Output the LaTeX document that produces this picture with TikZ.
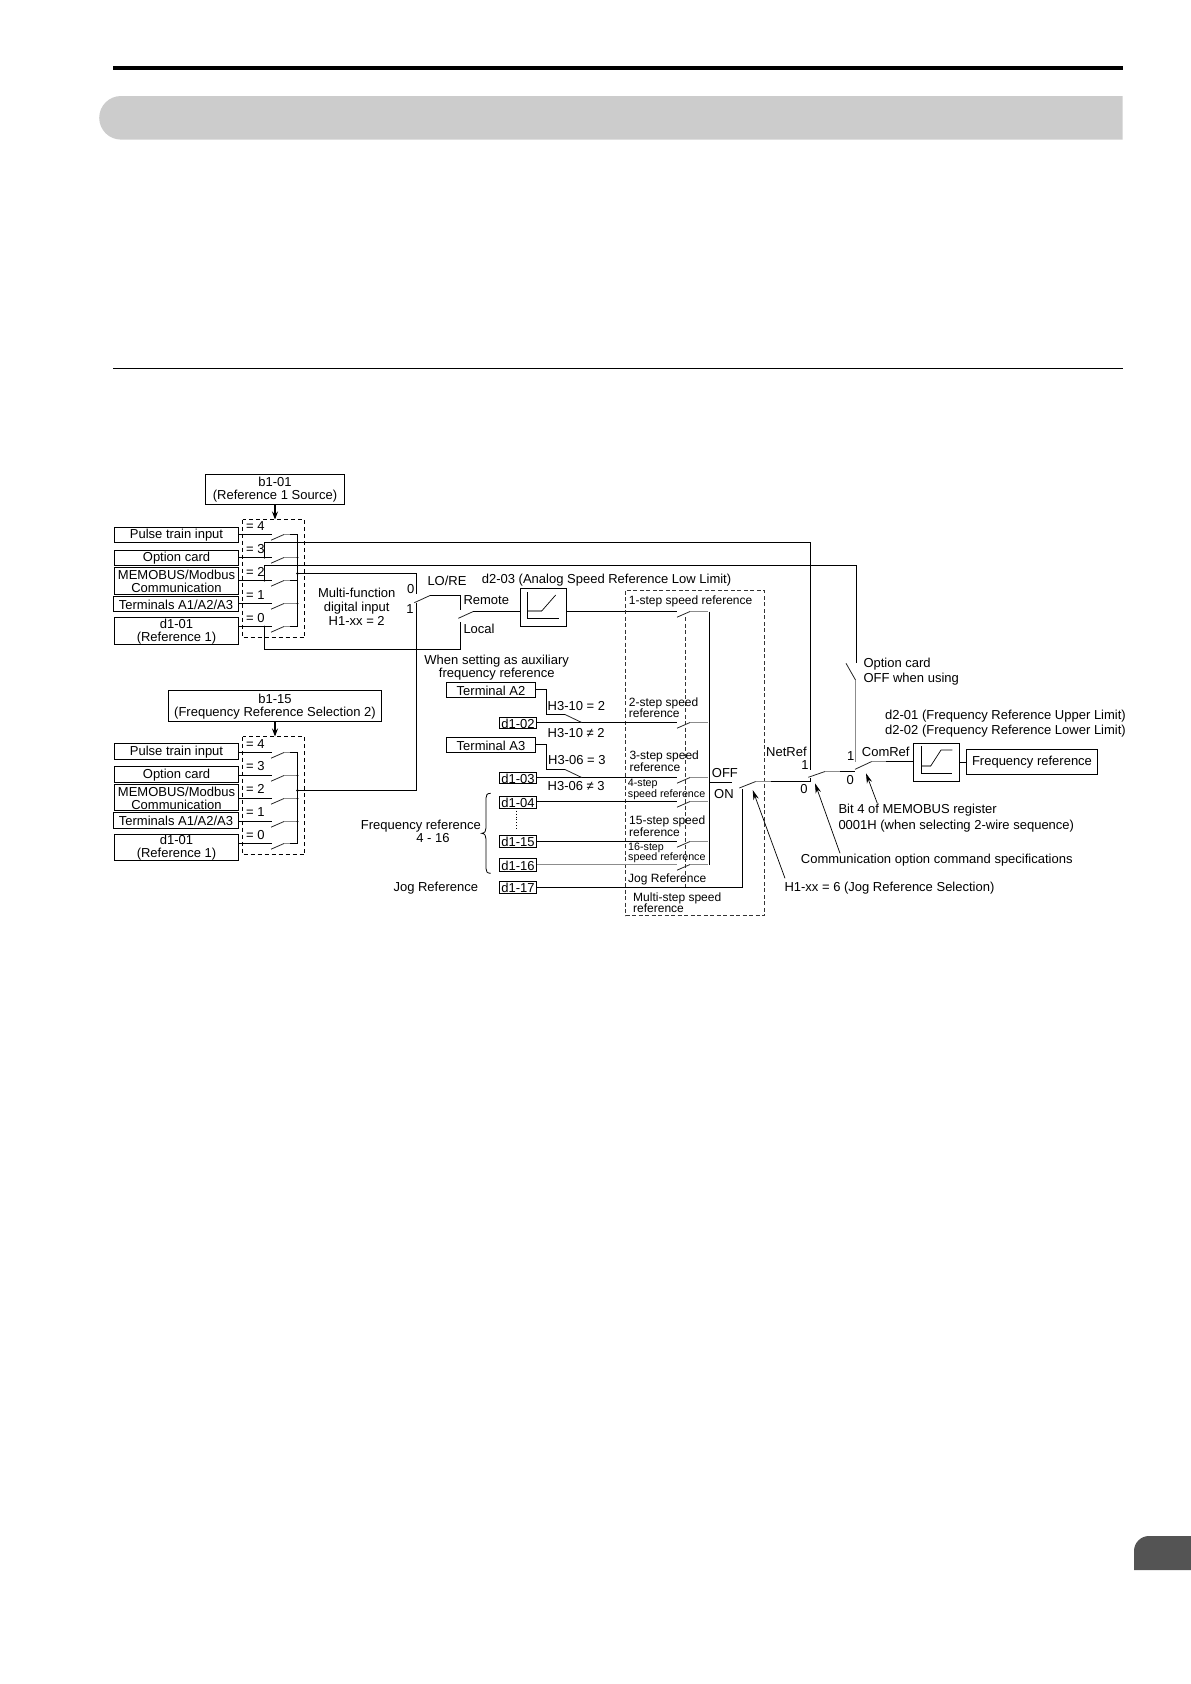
\documentclass[tikz,border=0pt]{standalone}
\usepackage{fontspec}
\setmainfont{Liberation Sans}
\usetikzlibrary{arrows.meta}
\tikzset{
  wire/.style={line width=1.1pt,black,line join=miter},
  blade/.style={line width=0.8pt,black!85},
  knee/.style={line width=1.1pt,black!45},
  dbox/.style={draw=black,line width=1.1pt,dash pattern=on 4pt off 3pt},
  ddbox/.style={draw=black!80,line width=0.8pt,dash pattern=on 4pt off 2.5pt},
  pointer/.style={line width=0.7pt,black,-{Stealth[length=10pt,width=5.5pt]}},
  feed/.style={line width=1.1pt,black,-{Stealth[length=8pt,width=6pt]}},
  boxn/.style={draw=black,line width=1.1pt,inner sep=0pt},
  txt/.style={inner sep=0pt,yshift=-0.4pt,font=\fontsize{13}{13}\selectfont,align=center},
  ltxt/.style={inner sep=0pt,yshift=-0.4pt,anchor=west,font=\fontsize{13}{13}\selectfont},
  rtxt/.style={inner sep=0pt,yshift=-0.4pt,anchor=east,font=\fontsize{13}{13}\selectfont},
  stxt/.style={inner sep=0pt,yshift=-0.4pt,anchor=west,font=\fontsize{12}{12}\selectfont},
  sstxt/.style={inner sep=0pt,yshift=-0.4pt,anchor=west,font=\fontsize{10.7}{10.7}\selectfont},
}
% \bx{name}{x1}{y1}{x2}{y2}{text}
\newcommand{\bx}[6]{\node[boxn,minimum width={(#4-#2)*1pt},minimum height={(#5-#3)*1pt}] (#1) at ({(#2+#4)/2},{(#3+#5)/2}) {};
\node[txt] (#1t) at (#1.center) {#6};}
% \swblade{x}{y}{kneeEnd}
\newcommand{\swblade}[3]{\draw[blade] (#1,#2+5.7) -- (#1+13,#2);\draw[knee] (#1+13,#2) -- (#3,#2);}
\begin{document}
\begin{tikzpicture}[x=1pt,y=-1pt]
\useasboundingbox (0,0) rectangle (1191,1684);
% page furniture
\fill[black] (113,66) rectangle (1122.5,70);
\fill[black!20] (1122.5,96) -- (121,96) arc[start angle=-90,end angle=-270,radius=21.8] -- (1122.5,139.6) -- cycle;
\draw[black,line width=1.5pt] (113,368.5) -- (1122.5,368.5);
\fill[black!67] (1191,1536) -- (1149,1536) arc[start angle=-90,end angle=-180,radius=15] -- (1134,1570) -- (1191,1570) -- cycle;

% ---- upper source bank
\bx{bA}{205.5}{474.5}{344.5}{504.5}{b1-01\\(Reference 1 Source)}
\draw[dbox] (242.5,519.5) rectangle (304.5,637.5);
\bx{pA}{114.5}{527.5}{238.5}{542.5}{Pulse train input}
\bx{oA}{114.5}{550.5}{238.5}{565.5}{Option card}
\bx{mA}{114.5}{567.5}{238.5}{594.5}{\fontsize{13}{11.3}\selectfont MEMOBUS/Modbus\\Communication}
\bx{tA}{113.5}{596.5}{238.5}{611.5}{Terminals A1/A2/A3}
\bx{dA}{114.5}{617.5}{238.5}{644.5}{d1-01\\(Reference 1)}
\coordinate (arA) at (275,519.5);
\draw[feed] (bA.south -| arA) -- (arA);
\node[ltxt] (ea4) at (246,526) {= 4};
\node[ltxt] (ea3) at (246,548.7) {= 3};
\node[ltxt] (ea2) at (246,572) {= 2};
\node[ltxt] (ea1) at (246,595) {= 1};
\node[ltxt] (ea0) at (246,618) {= 0};
\coordinate (a4) at (271.7,534.5);
\coordinate (a3) at (271.7,557.5);
\coordinate (a2) at (271.7,580.5);
\coordinate (a1) at (271.7,603.5);
\coordinate (a0) at (271.7,626.5);
\draw[wire] (pA.east |- a4) -- (a4);
\draw[wire] (oA.east |- a3) -- (a3);
\draw[wire] (mA.east |- a2) -- (a2);
\draw[wire] (tA.east |- a1) -- (a1);
\draw[wire] (dA.east |- a0) -- (a0);
\swblade{271}{534.5}{290}\swblade{271}{557.5}{297}\swblade{271}{580.5}{290}\swblade{271}{603.5}{297}\swblade{271}{626.5}{290}
\coordinate (busAt) at (297.5,534.5);
\coordinate (busAb) at (297.5,626.5);
\draw[wire] (290,534.5) -- (busAt) -- (busAb) -- (290,626.5);
\draw[wire] (290,580.5) -- (297.5,580.5);

% ---- lower source bank
\bx{bB}{168.5}{690.5}{381.5}{721.5}{b1-15\\(Frequency Reference Selection 2)}
\draw[dbox] (242.5,736.5) rectangle (304.5,854.5);
\bx{pB}{114.5}{743.5}{238.5}{759.5}{Pulse train input}
\bx{oB}{114.5}{766.5}{238.5}{782.5}{Option card}
\bx{mB}{114.5}{784.5}{238.5}{810.5}{\fontsize{13}{11.3}\selectfont MEMOBUS/Modbus\\Communication}
\bx{tB}{113.5}{812.5}{238.5}{828.5}{Terminals A1/A2/A3}
\bx{dB}{114.5}{834.5}{238.5}{860.5}{d1-01\\(Reference 1)}
\coordinate (arB) at (275,736.5);
\draw[feed] (bB.south -| arB) -- (arB);
\node[ltxt] (eb4) at (246,743.3) {= 4};
\node[ltxt] (eb3) at (246,766) {= 3};
\node[ltxt] (eb2) at (246,789) {= 2};
\node[ltxt] (eb1) at (246,812) {= 1};
\node[ltxt] (eb0) at (246,835) {= 0};
\coordinate (b4) at (271.7,752.5);
\coordinate (b3) at (271.7,775.5);
\coordinate (b2) at (271.7,798.5);
\coordinate (b1) at (271.7,821.5);
\coordinate (b0) at (271.7,843.5);
\draw[wire] (pB.east |- b4) -- (b4);
\draw[wire] (oB.east |- b3) -- (b3);
\draw[wire] (mB.east |- b2) -- (b2);
\draw[wire] (tB.east |- b1) -- (b1);
\draw[wire] (dB.east |- b0) -- (b0);
\swblade{271}{752.5}{290}\swblade{271}{775.5}{297}\swblade{271}{798.5}{297}\swblade{271}{821.5}{297}\swblade{271}{843.5}{290}
\coordinate (busBt) at (297.5,752.5);
\coordinate (busBb) at (297.5,843.5);
\draw[wire] (290,752.5) -- (busBt) -- (busBb) -- (290,843.5);

% ---- LO/RE multi-function switch
\coordinate (outA) at (297.5,573.5);
\coordinate (outB) at (297.5,790.5);
\coordinate (mf0) at (416.5,594);
\coordinate (mf1) at (416.5,603);
\draw[wire] (outA) -| (mf0);
\draw[wire] (outB) -| (mf1);
\fill (outA) circle (1.3pt) (outB) circle (1.3pt) (297.5,557.5) circle (1pt) (297.5,603.5) circle (1pt) (297.5,775.5) circle (1pt) (297.5,798.5) circle (1pt) (297.5,821.5) circle (1pt);
\node[txt,font=\fontsize{13}{14}\selectfont] (mft) at (356.7,606.8) {Multi-function\\digital input\\H1-xx = 2};
\node[txt] (mf0t) at (410.7,588.7) {0};
\node[txt] (mf1t) at (410,608.7) {1};
\node[ltxt] (lore) at (427.3,580) {LO/RE};
\node[ltxt] (d203) at (481.7,580) {d2-03 (Analog Speed Reference Low Limit)};
\node[ltxt] (remote) at (463.3,599.3) {Remote};
\node[ltxt] (local) at (463.3,628.3) {Local};
\draw[blade] (414.3,602.7) -- (430,595.5);
\coordinate (kLO) at (430,595.5);
\coordinate (rem) at (460.5,610);
\draw[wire] (kLO) -| (rem);
\coordinate (loc) at (460.5,621.7);
\coordinate (tap0) at (264.5,626.5);
\draw[wire] (tap0) |- (loc |- 0,649.5) -- (loc);
\draw[blade] (458.3,618.3) -- (473.3,611.5);
\fill (tap0) circle (1pt);

% long taps
\coordinate (net1) at (810.5,770);
\coordinate (tap3) at (264.5,557.5);
\coordinate (com1up) at (856.5,663.3);
\coordinate (tap2) at (264.5,580.5);
\draw[wire] (tap3) |- (net1 |- 0,542.5) -- (net1);
\draw[wire] (tap2) |- (com1up |- 0,565.5) -- (com1up);
\fill (tap3) circle (1pt) (tap2) circle (1pt);

% ---- analog limit block
\bx{lim}{520.5}{588.5}{566.5}{626.5}{}
\draw[wire,line width=0.9pt] (527.5,592.3) -- (527.5,618.5) -- (559.3,618.5);
\draw[knee] (527.5,611) -- (541.7,611);
\draw[line width=0.7pt] (541.7,611) -- (555.7,595);
\draw[wire] (473.3,611.5) -- (lim.west |- 0,611.5);
\coordinate (s1) at (677.3,611.5);
\draw[wire] (lim.east |- s1) -- (s1);

% ---- multi-step group
\draw[ddbox] (625.5,590.5) rectangle (764.5,915.5);
\draw[ddbox,line width=1pt] (685.5,617) -- (685.5,888);
\coordinate (busMt) at (709.5,611.5);
\coordinate (busMb) at (709.5,864.5);
\swblade{677}{611.5}{708}
\draw[wire] (busMt) -- (busMb);
\swblade{677}{722.5}{708}\swblade{677}{777.5}{708}\swblade{677}{801.5}{708}\swblade{677}{841.5}{708}\swblade{677}{864.5}{708}
\node[stxt] (st1) at (628.7,600.7) {1-step speed reference};
\node[stxt] (st2a) at (628.7,702.7) {2-step speed};
\node[stxt] (st2b) at (628.7,713.3) {reference};
\node[stxt] (st3a) at (629.3,756) {3-step speed};
\node[stxt] (st3b) at (629.3,766.7) {reference};
\node[sstxt] (st4a) at (627.7,783.3) {4-step};
\node[sstxt] (st4b) at (627.7,794) {speed reference};
\node[stxt] (st15a) at (629,820.7) {15-step speed};
\node[stxt] (st15b) at (629,831.7) {reference};
\node[sstxt] (st16a) at (628,847.3) {16-step};
\node[sstxt] (st16b) at (628,857) {speed reference};
\node[stxt] (jogs) at (628,878.7) {Jog Reference};
\node[stxt] (ms1) at (633,897.7) {Multi-step speed};
\node[stxt] (ms2) at (633,908) {reference};

% ---- auxiliary inputs
\node[txt] (aux) at (496.7,667.5) {When setting as auxiliary\\frequency reference};
\bx{ta2}{446.5}{682.5}{535.5}{697.5}{Terminal A2}
\bx{ta3}{446.5}{737.5}{535.5}{752.5}{Terminal A3}
\bx{d102}{499.5}{717.5}{536.5}{728.5}{d1-02}
\bx{d103}{499.5}{772.5}{536.5}{783.5}{d1-03}
\bx{d104}{499.5}{796.5}{536.5}{808.5}{d1-04}
\bx{d115}{499.5}{835.5}{536.5}{847.5}{d1-15}
\bx{d116}{499.5}{858.5}{536.5}{871.5}{d1-16}
\bx{d117}{499.5}{881.5}{536.5}{893.5}{d1-17}
\coordinate (s2) at (677,722.5);
\coordinate (s3) at (677,777.5);
\coordinate (s4) at (677,801.5);
\coordinate (s15) at (677,841.5);
\coordinate (s16) at (677,864.5);
\coordinate (jog) at (742.5,789);
\draw[wire] (d102.east |- s2) -- (s2);
\draw[wire] (d103.east |- s3) -- (s3);
\draw[wire] (d104.east |- s4) -- (s4);
\draw[wire] (d115.east |- s15) -- (s15);
\draw[knee] (d116.east |- s16) -- (s16);
\draw[wire] (d117.east |- 0,887.5) -| (jog);
\coordinate (a2k) at (546.5,689.5);
\coordinate (a3k) at (546.5,744.5);
\draw[wire] (ta2.east |- a2k) -- (a2k) -- (546.5,714.5) -- (565,714.5);
\draw[blade] (565,714.5) -- (581.7,722.5);
\draw[wire] (ta3.east |- a3k) -- (a3k) -- (546.5,769.5) -- (565,769.5);
\draw[blade] (565,769.5) -- (581.7,777.5);
\node[ltxt] (h1) at (547.5,705.3) {H3-10 = 2};
\node[ltxt] (h2) at (547.5,733) {H3-10 ≠ 2};
\node[ltxt] (h3) at (548,760) {H3-06 = 3};
\node[ltxt] (h4) at (547.5,786) {H3-06 ≠ 3};
\draw[line width=0.9pt,dotted] (516.5,810.7) -- (516.5,829.3);
\draw[line width=0.8pt] (490.7,793.3) .. controls (487,793.3) and (486,795) .. (486,798) -- (486,828) .. controls (486,831) and (485,833) .. (481.7,833.3) .. controls (485,833.6) and (486,836) .. (486,839) -- (486,868.5) .. controls (486,871.5) and (487,873.3) .. (490.7,873.3);
\node[rtxt] (fr416a) at (481,826) {Frequency reference};
\node[txt] (fr416b) at (433,838) {4 - 16};
\node[rtxt] (jogl) at (478.3,887.7) {Jog Reference};

% ---- OFF / ON
\coordinate (offe) at (732,782.5);
\draw[wire] (busMb |- offe) -- (offe);
\node[ltxt] (off) at (711.7,772.7) {OFF};
\node[ltxt] (on) at (714,794) {ON};
\draw[blade] (739.3,788) -- (755.7,781.5);
\draw[knee] (755.7,781.5) -- (770.7,781.5);
\coordinate (jk) at (770.7,781.5);
\coordinate (nett) at (810.5,778.3);
\draw[wire] (jk) -- (jk -| nett) -- (nett);
\node[ltxt] (netref) at (766,751.7) {NetRef};
\node[txt] (n1) at (805,765) {1};
\node[txt] (n0) at (804,789) {0};
\draw[blade] (808.3,777.3) -- (825,771.5);
\draw[knee] (825,771.5) -- (840,771.5);
\coordinate (nk) at (840,771.5);
\coordinate (c0) at (855,771.5);
\draw[wire] (nk) -- (c0);

% ---- option card / ComRef
\draw[blade] (846,663.3) -- (855.5,680);
\coordinate (c1) at (855.5,761.5);
\draw[knee] (855.5,680) -- (c1);
\draw[blade] (855,769.3) -- (871.7,761.5);
\draw[knee] (871.7,761.5) -- (886,761.5);
\coordinate (ck) at (886,761.5);
\node[ltxt] (optc) at (863.3,664) {Option card};
\node[ltxt] (offw) at (863.3,678.7) {OFF when using};
\node[txt] (c1t) at (850.7,755.7) {1};
\node[txt] (c0t) at (850.3,780) {0};
\node[ltxt] (comref) at (861.7,751.7) {ComRef};
\node[ltxt] (d201) at (885,715.7) {d2-01 (Frequency Reference Upper Limit)};
\node[ltxt] (d202) at (885,730.7) {d2-02 (Frequency Reference Lower Limit)};

\bx{lim2}{913.5}{743.5}{959.5}{781.5}{}
\draw[wire,line width=0.9pt] (921.5,746) -- (921.5,773.5) -- (951.7,773.5);
\draw[knee] (921.5,766) -- (930.7,766);
\draw[line width=0.7pt] (930.7,766) -- (941,750) -- (952.3,750);
\draw[wire] (ck) -- (lim2.west |- ck);
\bx{freq}{966.5}{749.5}{1097.5}{774.5}{Frequency reference}
\draw[wire] (lim2.east |- 0,762.5) -- (freq.west |- 0,762.5);

% ---- pointers and captions
\node[ltxt] (bit4a) at (838.3,810) {Bit 4 of MEMOBUS register};
\node[ltxt] (bit4b) at (838.3,825.7) {0001H (when selecting 2-wire sequence)};
\node[ltxt] (comm) at (800.7,859.7) {Communication option command specifications};
\node[ltxt] (h6) at (784.3,887.7) {H1-xx = 6 (Jog Reference Selection)};
\coordinate (pt1s) at (877.3,803.3);
\coordinate (pt1e) at (866,773.3);
\coordinate (pt2s) at (840,853.3);
\coordinate (pt2e) at (815,783.3);
\coordinate (pt3s) at (785,878.3);
\coordinate (pt3e) at (752.7,790);
\draw[pointer] (pt1s) -- (pt1e);
\draw[pointer] (pt2s) -- (pt2e);
\draw[pointer] (pt3s) -- (pt3e);
\end{tikzpicture}
\end{document}
